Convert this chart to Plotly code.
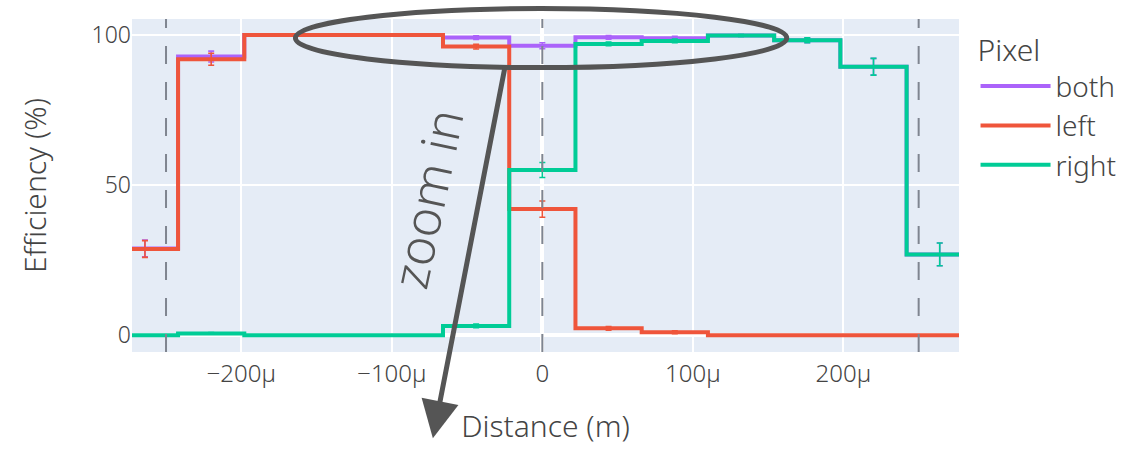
import plotly.graph_objects as go

# ---- data (distances in micrometres, efficiencies in %) ----
bin_edges_um = [-286, -242, -198, -154, -110, -66, -22, 22, 66, 110, 154, 198, 242, 286]
eff_both = [28.9, 92.8, 100.0, 100.0, 100.0, 99.1, 96.4, 99.2, 98.9, 99.8, 98.2, 89.4, 26.9]
eff_left = [28.7, 91.9, 100.0, 100.0, 100.0, 96.1, 42.0, 2.3, 1.0, 0.0, 0.0, 0.0, 0.0]
eff_right = [0.0, 0.6, 0.0, 0.0, 0.0, 3.1, 55.0, 97.0, 98.0, 99.8, 98.2, 89.4, 26.9]
err_both = [2.8, 1.8, 0.0, 0.0, 0.0, 0.6, 1.0, 0.6, 0.6, 0.3, 0.8, 2.8, 3.8]
err_left = [2.8, 2.0, 0.0, 0.0, 0.0, 0.8, 2.7, 0.6, 0.5, 0.0, 0.0, 0.0, 0.0]
err_right = [0.0, 0.3, 0.0, 0.0, 0.0, 0.6, 2.5, 0.6, 0.6, 0.3, 0.8, 2.8, 3.8]
pixel_marks_um = [-250, 0, 250]

series = [
    ("both", eff_both, err_both, "#AB63FA"),
    ("left", eff_left, err_left, "#EF553B"),
    ("right", eff_right, err_right, "#00CC96"),
]

edges_m = [e * 1e-6 for e in bin_edges_um]
centers_m = [(edges_m[i] + edges_m[i + 1]) / 2 for i in range(len(edges_m) - 1)]

fig = go.Figure()
for name, vals, errs, col in series:
    fig.add_trace(go.Scatter(
        x=edges_m, y=list(vals) + [vals[-1]], mode="lines", line_shape="hv",
        line=dict(color=col, width=4), name=name,
    ))
    fig.add_trace(go.Scatter(
        x=centers_m, y=vals, mode="markers", marker=dict(size=0.1, color=col, opacity=0),
        error_y=dict(type="data", array=errs, visible=True, color=col, thickness=1.6, width=3),
        showlegend=False, hoverinfo="skip",
    ))

for xm in pixel_marks_um:
    fig.add_vline(x=xm * 1e-6, line=dict(color="#7f8590", width=2, dash="18px,18px"), layer="above")

fig.add_shape(type="circle", xref="paper", yref="paper",
              x0=0.1976, x1=0.7917, y0=0.854, y1=1.0315,
              line=dict(color="#555555", width=5), layer="above")

fig.add_annotation(xref="paper", yref="paper", x=0.3638, y=-0.259, ax=72.7, ay=-374.3,
                   text="", showarrow=True, arrowhead=2, arrowsize=1.5, arrowwidth=5,
                   arrowcolor="#555555", standoff=0)
fig.add_annotation(xref="paper", yref="paper", x=0.356, y=0.46, text="zoom in",
                   showarrow=False, textangle=-78,
                   font=dict(size=50, color="#555555", family="Noto Sans", weight=300))

fig.update_layout(
    template="plotly",
    width=1134, height=449,
    margin=dict(l=132, r=173, t=19, b=97),
    font=dict(family="Noto Sans", color="#444444", size=23, weight=300),
    legend=dict(title=dict(text="Pixel", font=dict(size=30)), font=dict(size=28),
                itemwidth=70, tracegroupgap=0, y=0.99),
    showlegend=True,
)
fig.update_xaxes(range=[-272.6e-6, 276.8e-6], dtick=100e-6, tick0=0, tickformat="~s",
                 ticks="outside", ticklen=0, tickcolor="rgba(0,0,0,0)", automargin=False,
                 tickfont=dict(size=24),
                 title=dict(text="Distance (m)", font=dict(size=30), standoff=28),
                 zerolinewidth=4, gridwidth=2)
fig.update_yaxes(range=[-5.6, 105.3], dtick=50, tick0=0, automargin=False,
                 title=dict(text="Efficiency (%)", font=dict(size=30), standoff=36),
                 zerolinewidth=4, gridwidth=2)

fig.write_html("out.html")
